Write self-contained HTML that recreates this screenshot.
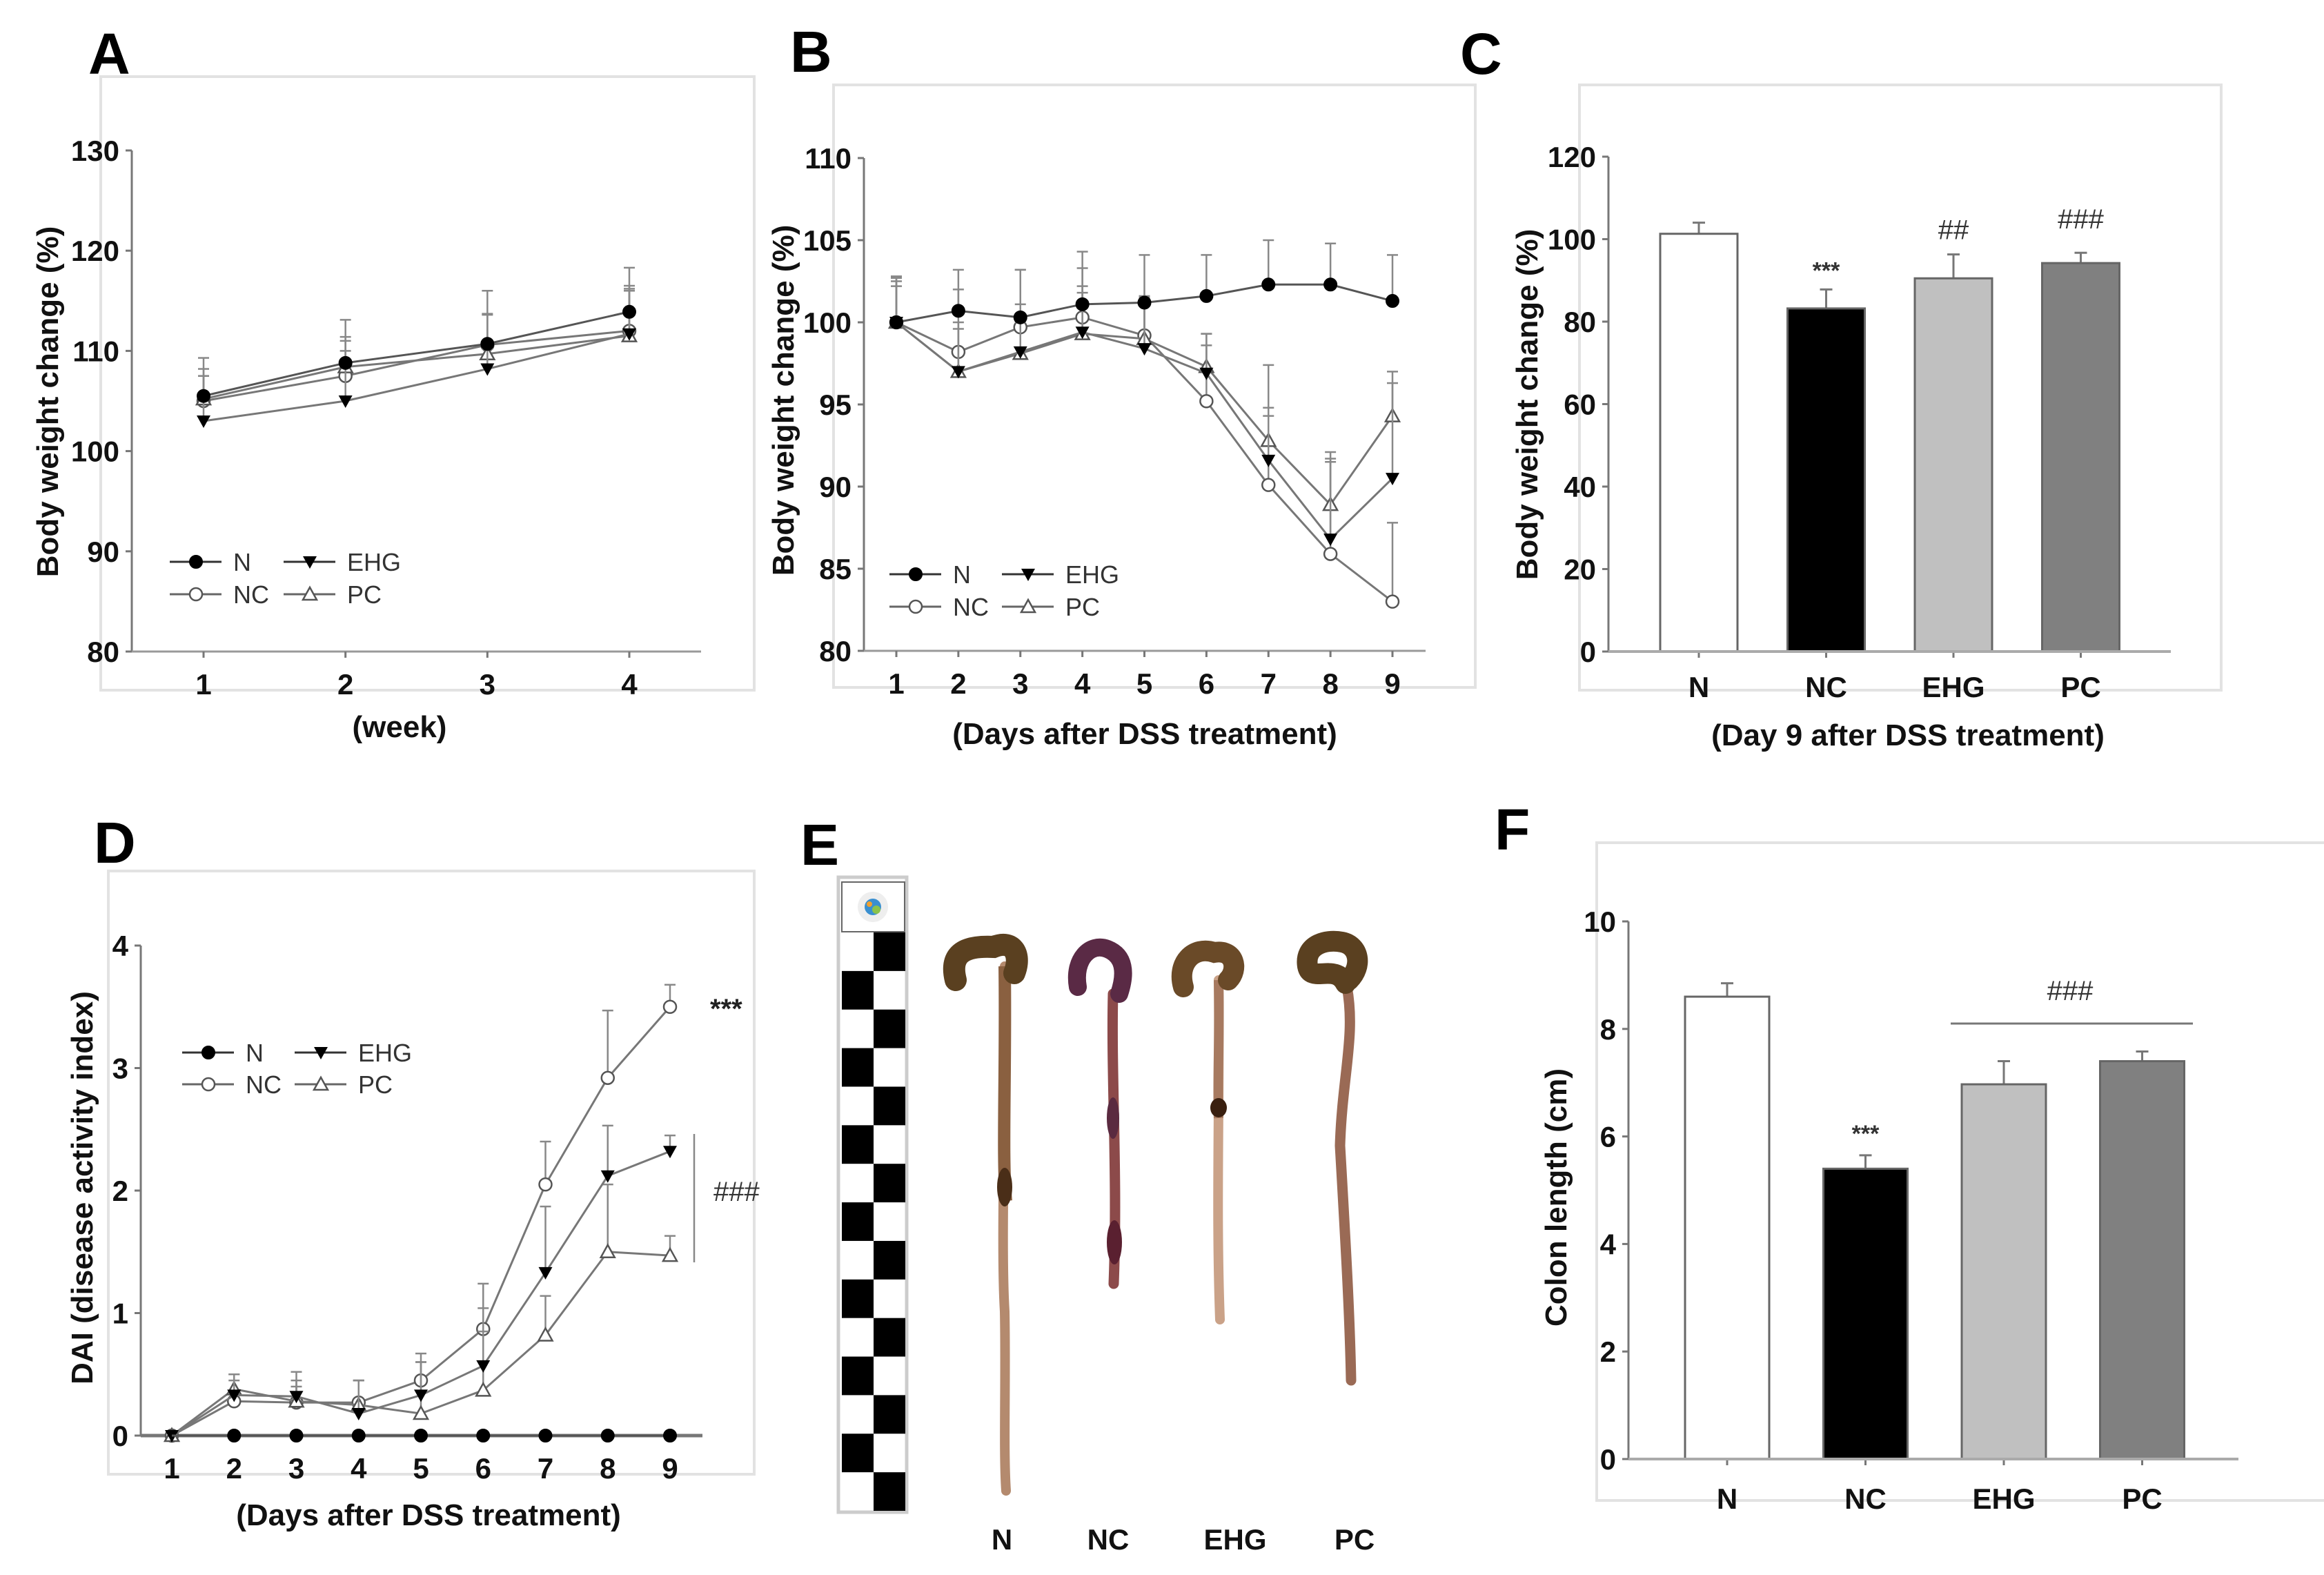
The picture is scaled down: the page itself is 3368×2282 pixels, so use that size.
<!DOCTYPE html>
<html><head><meta charset="utf-8"><style>
html,body{margin:0;padding:0;background:#fff;}
svg{display:block;}
text{font-family:"Liberation Sans",Arial,sans-serif;}
.lbl{font-weight:bold;font-size:84px;fill:#000;}
.tk{font-weight:bold;font-size:42px;fill:#111;}
.tt{font-weight:bold;font-size:44px;fill:#111;}
.lg{font-size:36px;fill:#333;}
.fr{fill:none;stroke:#e2e2e2;stroke-width:4;}
</style></head><body>
<svg id="fig" width="3368" height="2282" viewBox="0 0 3368 2282" xmlns="http://www.w3.org/2000/svg">
<rect x="0" y="0" width="3368" height="2282" fill="#fff"/>
<text class="lbl" x="128" y="107">A</text>
<text class="lbl" x="1145" y="104">B</text>
<text class="lbl" x="2116" y="107">C</text>
<text class="lbl" x="136" y="1250">D</text>
<text class="lbl" x="1160" y="1253">E</text>
<text class="lbl" x="2166" y="1231">F</text>
<rect class="fr" x="146" y="111" width="947" height="889"/>
<rect class="fr" x="1208" y="123" width="930" height="873"/>
<rect class="fr" x="2289" y="123" width="930" height="877"/>
<rect class="fr" x="157" y="1262" width="936" height="874"/>
<rect class="fr" x="2314" y="1221" width="1060" height="953"/>
<text class="tt" x="579" y="1068" text-anchor="middle">(week)</text>
<text class="tt" transform="translate(84,582) rotate(-90)" text-anchor="middle">Body weight change (%)</text>
<text class="tt" x="1659" y="1078" text-anchor="middle">(Days after DSS treatment)</text>
<text class="tt" transform="translate(1150,580) rotate(-90)" text-anchor="middle">Body weight change (%)</text>
<text class="tt" x="2765" y="1080" text-anchor="middle">(Day 9 after DSS treatment)</text>
<text class="tt" transform="translate(2228,586) rotate(-90)" text-anchor="middle">Body weight change (%)</text>
<text class="tt" x="621" y="2210" text-anchor="middle">(Days after DSS treatment)</text>
<text class="tt" transform="translate(134,1721) rotate(-90)" text-anchor="middle">DAI (disease activity index)</text>
<text class="tt" transform="translate(2270,1735) rotate(-90)" text-anchor="middle">Colon length (cm)</text>
<g id="panelE">
  <rect x="1215" y="1271" width="99" height="920" fill="#fff" stroke="#ccc" stroke-width="5"/>
  <rect x="1220" y="1278" width="91" height="72" fill="#fff" stroke="#666" stroke-width="2"/>
  <circle cx="1265" cy="1314" r="22" fill="#eee"/>
  <circle cx="1265" cy="1314" r="12" fill="#3a8fd0"/>
  <circle cx="1270" cy="1318" r="6" fill="#8bc34a"/>
  <circle cx="1260" cy="1310" r="4" fill="#f0a030"/>
  <g id="ruler-squares"></g>
  <g>
    <path d="M1456 1400 C1458 1600 1450 1800 1456 1900 C1458 2000 1454 2100 1458 2160" stroke="#b48a6e" stroke-width="14" fill="none" stroke-linecap="round"/>
    <path d="M1456 1400 C1458 1550 1452 1680 1458 1740" stroke="#8a6040" stroke-width="18" fill="none"/>
    <ellipse cx="1456" cy="1720" rx="11" ry="28" fill="#4a2e18"/>
    <path d="M1385 1420 C1375 1380 1400 1370 1440 1372 C1470 1360 1480 1385 1470 1410" stroke="#5a4020" stroke-width="32" fill="none" stroke-linecap="round"/>
  </g>
  <g>
    <path d="M1613 1440 C1610 1560 1620 1700 1614 1860" stroke="#8c4a4a" stroke-width="15" fill="none" stroke-linecap="round"/>
    <ellipse cx="1615" cy="1800" rx="11" ry="32" fill="#5a2030"/>
    <ellipse cx="1613" cy="1620" rx="9" ry="30" fill="#5a2a40"/>
    <path d="M1562 1430 C1555 1390 1580 1365 1605 1375 C1630 1385 1632 1410 1622 1440" stroke="#5a2a45" stroke-width="26" fill="none" stroke-linecap="round"/>
  </g>
  <g>
    <path d="M1766 1420 C1768 1600 1762 1750 1768 1912" stroke="#caa288" stroke-width="14" fill="none" stroke-linecap="round"/>
    <path d="M1766 1420 C1768 1500 1764 1560 1766 1620" stroke="#a77a60" stroke-width="14" fill="none"/>
    <ellipse cx="1766" cy="1605" rx="12" ry="14" fill="#3a2010"/>
    <path d="M1715 1430 C1705 1395 1730 1370 1760 1380 C1790 1375 1795 1405 1780 1420" stroke="#6a4a28" stroke-width="30" fill="none" stroke-linecap="round"/>
  </g>
  <g>
    <path d="M1952 1430 C1965 1500 1945 1560 1942 1660 C1950 1800 1956 1900 1958 2000" stroke="#9a6a55" stroke-width="15" fill="none" stroke-linecap="round"/>
    <path d="M1950 1425 C1935 1395 1900 1425 1895 1400 C1890 1370 1920 1360 1945 1365 C1970 1370 1975 1400 1955 1420" stroke="#5a4020" stroke-width="30" fill="none" stroke-linecap="round"/>
  </g>
  <text class="tk" x="1452" y="2245" text-anchor="middle">N</text>
  <text class="tk" x="1606" y="2245" text-anchor="middle">NC</text>
  <text class="tk" x="1790" y="2245" text-anchor="middle">EHG</text>
  <text class="tk" x="1963" y="2245" text-anchor="middle">PC</text>
</g>
<g id="charts"></g>
</svg>
<script>
const aWeeks = [1, 2, 3, 4];
const aN = [105.5, 108.8, 110.7, 113.9];
const aNerr = [3.8, 4.3, 5.3, 4.4];
const aNC = [105, 107.5, 110.6, 112];
const aNCerr = [2.5, 3.5, 3, 4];
const aEHG = [103, 105, 108.2, 111.7];
const aEHGerr = [4.5, 5, 2, 4.5];
const aPC = [105.2, 108.4, 109.7, 111.5];
const aPCerr = [3, 3, 4, 5];
const aTicks = [80, 90, 100, 110, 120, 130];

const days = [1, 2, 3, 4, 5, 6, 7, 8, 9];
const bN = [100, 100.7, 100.3, 101.1, 101.2, 101.6, 102.3, 102.3, 101.3];
const bNerr = [2.7, 2.5, 2.9, 3.2, 2.9, 2.5, 2.7, 2.5, 2.8];
const bNC = [100, 98.2, 99.7, 100.3, 99.2, 95.2, 90.1, 85.9, 83];
const bNCerr = [2.5, 3.8, 3.5, 3, 2.4, 4.1, 4.2, 5.6, 4.8];
const bEHG = [100, 97, 98.2, 99.4, 98.4, 96.9, 91.6, 86.8, 90.5];
const bEHGerr = [2.8, 3, 2.9, 2.8, 2.6, 2.4, 3.2, 4.9, 5.8];
const bPC = [100, 97, 98.1, 99.3, 99, 97.3, 92.8, 88.9, 94.3];
const bPCerr = [2.2, 2.6, 1.9, 2.5, 2.5, 1.3, 4.6, 3.2, 2.7];
const bTicks = [80, 85, 90, 95, 100, 105, 110];

const dN = [0, 0, 0, 0, 0, 0, 0, 0, 0];
const dNC = [0, 0.28, 0.27, 0.27, 0.45, 0.87, 2.05, 2.92, 3.5];
const dNCerr = [0, 0.17, 0.18, 0.18, 0.22, 0.37, 0.35, 0.55, 0.18];
const dEHG = [0, 0.33, 0.32, 0.18, 0.33, 0.57, 1.33, 2.12, 2.32];
const dEHGerr = [0, 0.17, 0.2, 0.27, 0.27, 0.47, 0.54, 0.41, 0.13];
const dPC = [0, 0.38, 0.28, 0.25, 0.18, 0.37, 0.82, 1.5, 1.47];
const dPCerr = [0, 0.12, 0.12, 0.2, 0.42, 0.48, 0.32, 0.55, 0.16];
const dTicks = [0, 1, 2, 3, 4];

const groups = ['N', 'NC', 'EHG', 'PC'];
const cVals = [101.3, 83.2, 90.5, 94.2];
const cErr = [2.7, 4.6, 5.8, 2.5];
const cMarks = ['', '***', '##', '###'];
const cTicks = [0, 20, 40, 60, 80, 100, 120];

const fVals = [8.6, 5.4, 6.97, 7.4];
const fErr = [0.25, 0.25, 0.43, 0.18];
const fTicks = [0, 2, 4, 6, 8, 10];

const NS = 'http://www.w3.org/2000/svg';
const root = document.getElementById('charts');
function mk(tag, attrs, parent) {
  const el = document.createElementNS(NS, tag);
  for (const k in attrs) el.setAttribute(k, attrs[k]);
  (parent || root).appendChild(el);
  return el;
}
function linScale(d0, d1, r0, r1) { return v => r0 + (v - d0) * (r1 - r0) / (d1 - d0); }

function marker(g, type, x, y) {
  let el;
  const r = 9;
  if (type === 'N') el = mk('circle', {cx: x, cy: y, r: r, fill: '#000', stroke: '#000', 'stroke-width': 2}, g);
  else if (type === 'NC') el = mk('circle', {cx: x, cy: y, r: r, fill: '#fff', stroke: '#555', 'stroke-width': 2.5}, g);
  else if (type === 'EHG') el = mk('polygon', {points: `${x-10},${y-8} ${x+10},${y-8} ${x},${y+10}`, fill: '#000'}, g);
  else el = mk('polygon', {points: `${x-10},${y+8} ${x+10},${y+8} ${x},${y-10}`, fill: '#fff', stroke: '#555', 'stroke-width': 2.5}, g);
  return el;
}

function axes(g, ax) {
  const yAxis = mk('line', {x1: ax.x0, y1: ax.yTop, x2: ax.x0, y2: ax.yBot, stroke: '#777', 'stroke-width': 3}, g);
  
  
  const xAxis = mk('line', {x1: ax.x0, y1: ax.yBot, x2: ax.xEnd, y2: ax.yBot, stroke: ax.xColor || '#999', 'stroke-width': ax.xWidth || 3}, g);
  
  
  ax.ticks.forEach(t => {
    const y = ax.ys(t);
    mk('line', {x1: ax.x0 - 9, y1: y, x2: ax.x0, y2: y, stroke: '#777', 'stroke-width': 3}, g);
    const tx = mk('text', {x: ax.x0 - 18, y: y + 15, 'text-anchor': 'end', class: 'tk'}, g);
    tx.textContent = t;
    
    
  });
}

function lineChart(name, xs, ticks, ys, xsData, series, xAx, legend) {
  const g = mk('g', {});
  
  
  axes(g, {x0: xAx.x0, yTop: xAx.yTop, yBot: xAx.yBot, xEnd: xAx.xEnd, ticks: ticks, ys: ys, xColor: xAx.xColor, xWidth: xAx.xWidth});
  xsData.forEach(d => {
    const x = xs(d);
    mk('line', {x1: x, y1: xAx.yBot, x2: x, y2: xAx.yBot + 9, stroke: '#777', 'stroke-width': 3}, g);
    const tx = mk('text', {x: x, y: xAx.yBot + 62, 'text-anchor': 'middle', class: 'tk'}, g);
    tx.textContent = d;
    
    
  });
  series.forEach(s => {
    const sg = mk('g', {}, g);
    
    
    if (s.err) s.vals.forEach((v, i) => {
      if (!s.err[i]) return;
      const x = xs(xsData[i]), y0 = ys(v), y1 = ys(v + s.err[i]);
      mk('line', {x1: x, y1: y0, x2: x, y2: y1, stroke: '#888', 'stroke-width': 2.5}, sg);
      mk('line', {x1: x - 8, y1: y1, x2: x + 8, y2: y1, stroke: '#888', 'stroke-width': 2.5}, sg);
    });
    const pts = s.vals.map((v, i) => xs(xsData[i]) + ',' + ys(v)).join(' ');
    const pl = mk('polyline', {points: pts, fill: 'none', stroke: s.key === 'N' ? '#555' : '#777', 'stroke-width': 3}, sg);
    
    
    s.vals.forEach((v, i) => {
      if (s.skipFirst && i === 0) return;
      const m = marker(sg, s.key, xs(xsData[i]), ys(v));
      
      
    });
  });
  const lg = mk('g', {}, g);
  
  
  const items = [['N', 0, 0], ['EHG', 1, 0], ['NC', 0, 1], ['PC', 1, 1]];
  items.forEach(it => {
    const lx = legend.x + it[1] * legend.colW, ly = legend.y + it[2] * legend.rowH;
    const eg = mk('g', {}, lg);
    
    
    mk('line', {x1: lx, y1: ly, x2: lx + 75, y2: ly, stroke: it[0] === 'N' || it[0] === 'EHG' ? '#333' : '#666', 'stroke-width': 3}, eg);
    marker(eg, it[0], lx + 38, ly);
    const t = mk('text', {x: lx + 92, y: ly + 13, class: 'lg'}, eg);
    t.textContent = it[0];
  });
  return g;
}

const aX = linScale(1, 4, 295, 912);
const aY = linScale(80, 130, 944, 218);
lineChart('panel-a-chart', aX, aTicks, aY, aWeeks, [
  {key: 'NC', vals: aNC, err: aNCerr}, {key: 'PC', vals: aPC, err: aPCerr},
  {key: 'EHG', vals: aEHG, err: aEHGerr}, {key: 'N', vals: aN, err: aNerr}
], {x0: 191, yTop: 218, yBot: 944, xEnd: 1016}, {x: 246, y: 814, colW: 165, rowH: 47});

const bX = linScale(1, 9, 1299, 2018);
const bY = linScale(80, 110, 943, 229);
lineChart('panel-b-chart', bX, bTicks, bY, days, [
  {key: 'NC', vals: bNC, err: bNCerr}, {key: 'PC', vals: bPC, err: bPCerr},
  {key: 'EHG', vals: bEHG, err: bEHGerr}, {key: 'N', vals: bN, err: bNerr}
], {x0: 1252, yTop: 229, yBot: 943, xEnd: 2066}, {x: 1289, y: 832, colW: 163, rowH: 47});

const dX = linScale(1, 9, 249, 971);
const dY = linScale(0, 4, 2080, 1370);
lineChart('panel-d-chart', dX, dTicks, dY, days, [
  {key: 'NC', vals: dNC, err: dNCerr}, {key: 'PC', vals: dPC, err: dPCerr},
  {key: 'EHG', vals: dEHG, err: dEHGerr}, {key: 'N', vals: dN, err: null, skipFirst: true}
], {x0: 204, yTop: 1370, yBot: 2080, xEnd: 1018, xColor: '#777', xWidth: 5}, {x: 264, y: 1525, colW: 163, rowH: 46});
(function () {
  const s1 = mk('text', {x: 1029, y: 1475, 'font-size': 40, fill: '#222', 'font-weight': 'bold'});
  s1.textContent = '***';
  
  
  const l = mk('line', {x1: 1006, y1: 1643, x2: 1006, y2: 1829, stroke: '#888', 'stroke-width': 2.5});
  
  
  const s2 = mk('text', {x: 1034, y: 1740, 'font-size': 40, fill: '#333'});
  s2.textContent = '###';
  
  
})();

const fills = ['#fff', '#000', '#c0c0c0', '#808080'];
function barChart(name, vals, errs, ticks, ys, ax, xc, bw) {
  const g = mk('g', {});
  
  
  vals.forEach((v, i) => {
    const x = xc(i), y = ys(v), y0 = ys(0), ye = ys(v + errs[i]);
    mk('line', {x1: x, y1: y, x2: x, y2: ye, stroke: '#777', 'stroke-width': 3}, g);
    mk('line', {x1: x - 9, y1: ye, x2: x + 9, y2: ye, stroke: '#777', 'stroke-width': 3}, g);
    const b = mk('rect', {x: x - bw / 2, y: y, width: bw, height: y0 - y, fill: fills[i], stroke: '#666', 'stroke-width': 3}, g);
    
    
    mk('line', {x1: x, y1: y0, x2: x, y2: y0 + 9, stroke: '#777', 'stroke-width': 3}, g);
    const t = mk('text', {x: x, y: ax.labelY, 'text-anchor': 'middle', class: 'tk', 'font-size': 36}, g);
    t.textContent = groups[i];
    
    
  });
  axes(g, {x0: ax.x0, yTop: ax.yTop, yBot: ax.yBot, xEnd: ax.xEnd, ticks: ticks, ys: ys, xColor: '#aaa', xWidth: 4});
  return g;
}
const cY = linScale(0, 120, 944, 227);
const cXc = i => 2462 + i * 184.5;
barChart('panel-c-chart', cVals, cErr, cTicks, cY, {x0: 2331, yTop: 227, yBot: 944, xEnd: 3146, labelY: 1010}, cXc, 112);
const cOff = [0, -16, -22, -35];
cMarks.forEach((m, i) => {
  if (!m) return;
  const t = mk('text', {x: cXc(i), y: cY(cVals[i] + cErr[i]) + cOff[i], 'text-anchor': 'middle', 'font-size': m === '***' ? 34 : 40, fill: '#333', 'font-weight': m === '***' ? 'bold' : 'normal'});
  t.textContent = m;
  
  
});

const fY = linScale(0, 10, 2114, 1335);
const fXc = i => 2503 + i * 200.5;
barChart('panel-f-chart', fVals, fErr, fTicks, fY, {x0: 2360, yTop: 1335, yBot: 2114, xEnd: 3244, labelY: 2186}, fXc, 122);
(function () {
  const s = mk('text', {x: fXc(1), y: fY(fVals[1] + fErr[1]) - 20, 'text-anchor': 'middle', 'font-size': 34, 'font-weight': 'bold', fill: '#333'});
  s.textContent = '***';
  
  
  const l = mk('line', {x1: 2827, y1: 1483, x2: 3178, y2: 1483, stroke: '#777', 'stroke-width': 3});
  
  
  const h = mk('text', {x: 3000, y: 1449, 'text-anchor': 'middle', 'font-size': 40, fill: '#333'});
  h.textContent = '###';
  
  
})();

(function () {
  const rg = document.getElementById('ruler-squares');
  const rowH = (2189 - 1351) / 15;
  for (let r = 0; r < 15; r++) {
    const blackRight = r % 2 === 0;
    const sq = document.createElementNS(NS, 'rect');
    sq.setAttribute('x', blackRight ? 1266 : 1220);
    sq.setAttribute('y', 1351 + r * rowH);
    sq.setAttribute('width', 46);
    sq.setAttribute('height', rowH);
    sq.setAttribute('fill', '#000');
    
    
    rg.appendChild(sq);
  }
})();
</script>
</body></html>
